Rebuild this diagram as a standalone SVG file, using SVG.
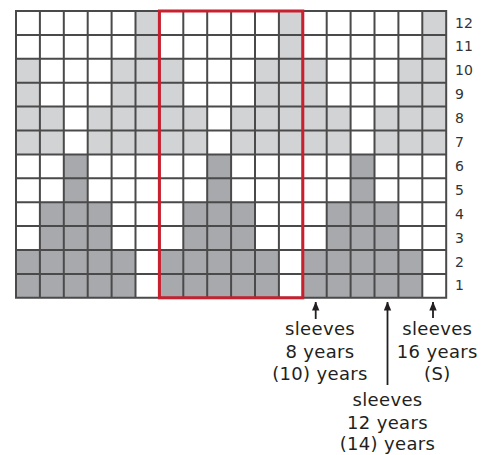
<svg xmlns="http://www.w3.org/2000/svg" width="484" height="455" viewBox="0 0 484 455">
<defs>
<style>
.lt{fill:#d1d3d4}
.dk{fill:#a7a9ac}
.grid{fill:none;stroke:#4a4a4a;stroke-width:2}
.rl{font-family:"DejaVu Sans",Verdana,sans-serif;font-size:14px;fill:#333}
.lb{font-family:"DejaVu Sans",Verdana,sans-serif;font-size:18px;letter-spacing:0.35px;fill:#231f20;text-anchor:middle}
.arr{stroke:#231f20;stroke-width:1.8;fill:none}
</style>
<marker id="ah" viewBox="0 0 9 8" refX="8.5" refY="4" markerWidth="9" markerHeight="8" markerUnits="userSpaceOnUse" orient="auto">
<path d="M0,0.3 L9,4 L0,7.7 Z" fill="#231f20"/>
</marker>
</defs>
<rect x="0" y="0" width="484" height="455" fill="#fff"/>
<g id="chart">
<g id="fills">
<rect class="lt" x="135.5" y="11" width="23.9" height="47.8"/>
<rect class="lt" x="278.9" y="11" width="23.9" height="47.8"/>
<rect class="lt" x="422.3" y="11" width="23.9" height="47.8"/>
<rect class="lt" x="16" y="58.8" width="23.9" height="47.8"/>
<rect class="lt" x="111.6" y="58.8" width="71.7" height="47.8"/>
<rect class="lt" x="255" y="58.8" width="71.7" height="47.8"/>
<rect class="lt" x="398.4" y="58.8" width="47.8" height="47.8"/>
<rect class="lt" x="16" y="106.6" width="47.8" height="47.8"/>
<rect class="lt" x="87.7" y="106.6" width="119.5" height="47.8"/>
<rect class="lt" x="231.1" y="106.6" width="119.5" height="47.8"/>
<rect class="lt" x="374.5" y="106.6" width="71.7" height="47.8"/>
<rect class="dk" x="63.8" y="154.4" width="23.9" height="47.8"/>
<rect class="dk" x="207.2" y="154.4" width="23.9" height="47.8"/>
<rect class="dk" x="350.6" y="154.4" width="23.9" height="47.8"/>
<rect class="dk" x="39.9" y="202.2" width="71.7" height="47.8"/>
<rect class="dk" x="183.3" y="202.2" width="71.7" height="47.8"/>
<rect class="dk" x="326.7" y="202.2" width="71.7" height="47.8"/>
<rect class="dk" x="16" y="250" width="119.5" height="47.8"/>
<rect class="dk" x="159.4" y="250" width="119.5" height="47.8"/>
<rect class="dk" x="302.8" y="250" width="119.5" height="47.8"/>
</g>
<path class="grid" d="M16,11V297.8M39.9,11V297.8M63.8,11V297.8M87.7,11V297.8M111.6,11V297.8M135.5,11V297.8M159.4,11V297.8M183.3,11V297.8M207.2,11V297.8M231.1,11V297.8M255,11V297.8M278.9,11V297.8M302.8,11V297.8M326.7,11V297.8M350.6,11V297.8M374.5,11V297.8M398.4,11V297.8M422.3,11V297.8M446.2,11V297.8M15,11H447.2M15,34.9H447.2M15,58.8H447.2M15,82.7H447.2M15,106.6H447.2M15,130.5H447.2M15,154.4H447.2M15,178.3H447.2M15,202.2H447.2M15,226.1H447.2M15,250H447.2M15,273.9H447.2M15,297.8H447.2"/>
<rect id="highlight" x="159.4" y="11" width="143.4" height="286.8" fill="none" stroke="#c8202f" stroke-width="3"/>
</g>
<g id="row-labels">
<text class="rl" x="455" y="27.5">12</text>
<text class="rl" x="455" y="51.4">11</text>
<text class="rl" x="455" y="75.3">10</text>
<text class="rl" x="455" y="99.2">9</text>
<text class="rl" x="455" y="123.1">8</text>
<text class="rl" x="455" y="147">7</text>
<text class="rl" x="455" y="170.9">6</text>
<text class="rl" x="455" y="194.8">5</text>
<text class="rl" x="455" y="218.7">4</text>
<text class="rl" x="455" y="242.6">3</text>
<text class="rl" x="455" y="266.5">2</text>
<text class="rl" x="455" y="290.4">1</text>
</g>
<g id="connectors">
<line class="arr" x1="315.7" y1="319" x2="315.7" y2="302" marker-end="url(#ah)"/>
<line class="arr" x1="387.5" y1="385" x2="387.5" y2="302" marker-end="url(#ah)"/>
<line class="arr" x1="433" y1="318" x2="433" y2="302" marker-end="url(#ah)"/>
</g>
<g id="label-8">
<text class="lb" x="320" y="335">sleeves</text>
<text class="lb" x="320" y="357.5">8 years</text>
<text class="lb" x="320" y="379.5">(10) years</text>
</g>
<g id="label-16">
<text class="lb" x="437.3" y="335">sleeves</text>
<text class="lb" x="437.3" y="357.5">16 years</text>
<text class="lb" x="437.3" y="379.5">(S)</text>
</g>
<g id="label-12">
<text class="lb" x="387.5" y="406">sleeves</text>
<text class="lb" x="387.5" y="428.5">12 years</text>
<text class="lb" x="387.5" y="450">(14) years</text>
</g>
</svg>
